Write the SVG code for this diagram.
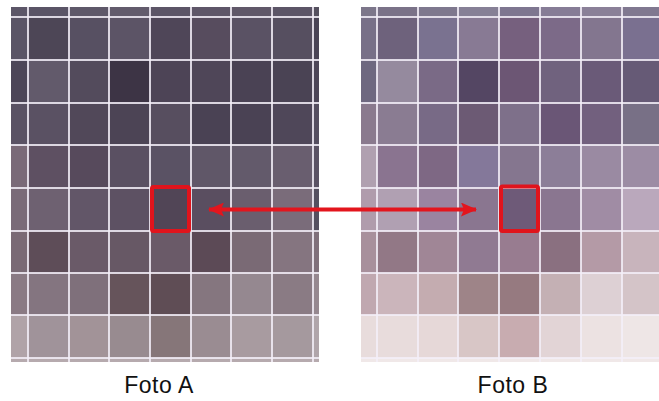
<svg xmlns="http://www.w3.org/2000/svg" width="659" height="401" viewBox="0 0 659 401">
<style>
.grid line{stroke:#f3eef8;stroke-width:2;stroke-opacity:0.85}
.sel{fill:none;stroke:#e0141c;stroke-width:4}
.lbl{font-family:"Liberation Sans",Arial,sans-serif;font-size:23px;fill:#111;text-anchor:middle;letter-spacing:0.5px}
</style>
<defs>
<marker id="ah" viewBox="0 0 16 14" refX="15" refY="7" markerWidth="16" markerHeight="14" markerUnits="userSpaceOnUse" orient="auto-start-reverse">
<path d="M0,0 L16,7 L0,14 L3,7 Z" fill="#e3151d"/>
</marker>
</defs>
<rect width="659" height="401" fill="#ffffff"/>

<g id="fotoA">
<g>
<rect x="11" y="7" width="17" height="10" fill="#5c5668"/><rect x="28" y="7" width="41" height="10" fill="#5a5466"/><rect x="69" y="7" width="40" height="10" fill="#5e5869"/><rect x="109" y="7" width="41" height="10" fill="#625b6c"/><rect x="150" y="7" width="41" height="10" fill="#5c5567"/><rect x="191" y="7" width="40" height="10" fill="#5e5668"/><rect x="231" y="7" width="41" height="10" fill="#605869"/><rect x="272" y="7" width="41" height="10" fill="#5c5567"/><rect x="313" y="7" width="6" height="10" fill="#55505f"/>
</g>
<g>
<rect x="11" y="17" width="17" height="43" fill="#5a5466"/><rect x="28" y="17" width="41" height="43" fill="#4d4656"/><rect x="69" y="17" width="40" height="43" fill="#575062"/><rect x="109" y="17" width="41" height="43" fill="#5c5466"/><rect x="150" y="17" width="41" height="43" fill="#4f4658"/><rect x="191" y="17" width="40" height="43" fill="#574c5e"/><rect x="231" y="17" width="41" height="43" fill="#5a5264"/><rect x="272" y="17" width="41" height="43" fill="#564f60"/><rect x="313" y="17" width="6" height="43" fill="#4a4456"/>
</g>
<g>
<rect x="11" y="60" width="17" height="43" fill="#4d4658"/><rect x="28" y="60" width="41" height="43" fill="#625a6b"/><rect x="69" y="60" width="40" height="43" fill="#534b5c"/><rect x="109" y="60" width="41" height="43" fill="#3d3445"/><rect x="150" y="60" width="41" height="43" fill="#4d4456"/><rect x="191" y="60" width="40" height="43" fill="#4f4658"/><rect x="231" y="60" width="41" height="43" fill="#4a4254"/><rect x="272" y="60" width="41" height="43" fill="#4a4354"/><rect x="313" y="60" width="6" height="43" fill="#4d4658"/>
</g>
<g>
<rect x="11" y="103" width="17" height="42" fill="#5a5264"/><rect x="28" y="103" width="41" height="42" fill="#5a5163"/><rect x="69" y="103" width="40" height="42" fill="#514859"/><rect x="109" y="103" width="41" height="42" fill="#4c4455"/><rect x="150" y="103" width="41" height="42" fill="#574e5f"/><rect x="191" y="103" width="40" height="42" fill="#4a4254"/><rect x="231" y="103" width="41" height="42" fill="#4a4254"/><rect x="272" y="103" width="41" height="42" fill="#4f4759"/><rect x="313" y="103" width="6" height="42" fill="#554e60"/>
</g>
<g>
<rect x="11" y="145" width="17" height="43" fill="#7a6a78"/><rect x="28" y="145" width="41" height="43" fill="#5e5062"/><rect x="69" y="145" width="40" height="43" fill="#574a5c"/><rect x="109" y="145" width="41" height="43" fill="#5a5062"/><rect x="150" y="145" width="41" height="43" fill="#5a5264"/><rect x="191" y="145" width="40" height="43" fill="#605768"/><rect x="231" y="145" width="41" height="43" fill="#635a6b"/><rect x="272" y="145" width="41" height="43" fill="#695e6f"/><rect x="313" y="145" width="6" height="43" fill="#5a5264"/>
</g>
<g>
<rect x="11" y="188" width="17" height="43" fill="#7a6b78"/><rect x="28" y="188" width="41" height="43" fill="#6e6171"/><rect x="69" y="188" width="40" height="43" fill="#625668"/><rect x="109" y="188" width="41" height="43" fill="#5d5163"/><rect x="150" y="188" width="41" height="43" fill="#514556"/><rect x="191" y="188" width="40" height="43" fill="#5a4e60"/><rect x="231" y="188" width="41" height="43" fill="#6a5e6e"/><rect x="272" y="188" width="41" height="43" fill="#7a6c7a"/><rect x="313" y="188" width="6" height="43" fill="#555060"/>
</g>
<g>
<rect x="11" y="231" width="17" height="42" fill="#7a6a75"/><rect x="28" y="231" width="41" height="42" fill="#5e4d58"/><rect x="69" y="231" width="40" height="42" fill="#6a5a68"/><rect x="109" y="231" width="41" height="42" fill="#675865"/><rect x="150" y="231" width="41" height="42" fill="#6a5a68"/><rect x="191" y="231" width="40" height="42" fill="#5c4a56"/><rect x="231" y="231" width="41" height="42" fill="#7a6a75"/><rect x="272" y="231" width="41" height="42" fill="#857580"/><rect x="313" y="231" width="6" height="42" fill="#80707b"/>
</g>
<g>
<rect x="11" y="273" width="17" height="42" fill="#8a7a84"/><rect x="28" y="273" width="41" height="42" fill="#847580"/><rect x="69" y="273" width="40" height="42" fill="#7f707b"/><rect x="109" y="273" width="41" height="42" fill="#66545b"/><rect x="150" y="273" width="41" height="42" fill="#5f4d55"/><rect x="191" y="273" width="40" height="42" fill="#85767f"/><rect x="231" y="273" width="41" height="42" fill="#958890"/><rect x="272" y="273" width="41" height="42" fill="#8a7b84"/><rect x="313" y="273" width="6" height="42" fill="#968890"/>
</g>
<g>
<rect x="11" y="315" width="17" height="43" fill="#b0a3a8"/><rect x="28" y="315" width="41" height="43" fill="#a0939a"/><rect x="69" y="315" width="40" height="43" fill="#a29398"/><rect x="109" y="315" width="41" height="43" fill="#988b90"/><rect x="150" y="315" width="41" height="43" fill="#867679"/><rect x="191" y="315" width="40" height="43" fill="#9a8c92"/><rect x="231" y="315" width="41" height="43" fill="#a89ba0"/><rect x="272" y="315" width="41" height="43" fill="#a5999e"/><rect x="313" y="315" width="6" height="43" fill="#b0a5aa"/>
</g>
<g>
<rect x="11" y="358" width="308" height="4" fill="#b6aaae"/>
</g>
<g class="grid">
<line x1="28" y1="7" x2="28" y2="362"/><line x1="69" y1="7" x2="69" y2="362"/><line x1="109" y1="7" x2="109" y2="362"/><line x1="150" y1="7" x2="150" y2="362"/><line x1="191" y1="7" x2="191" y2="362"/><line x1="231" y1="7" x2="231" y2="362"/><line x1="272" y1="7" x2="272" y2="362"/><line x1="313" y1="7" x2="313" y2="362"/>
<line x1="11" y1="17" x2="319" y2="17"/><line x1="11" y1="60" x2="319" y2="60"/><line x1="11" y1="103" x2="319" y2="103"/><line x1="11" y1="145" x2="319" y2="145"/><line x1="11" y1="188" x2="319" y2="188"/><line x1="11" y1="231" x2="319" y2="231"/><line x1="11" y1="273" x2="319" y2="273"/><line x1="11" y1="315" x2="319" y2="315"/><line x1="11" y1="358" x2="319" y2="358"/>
</g>
<rect class="sel" x="152" y="187" width="37" height="44" rx="1.5"/>
<text class="lbl" x="159" y="393">Foto A</text>
</g>

<g id="fotoB">
<g>
<rect x="361" y="7" width="16" height="10" fill="#7c768a"/><rect x="377" y="7" width="41" height="10" fill="#7a7288"/><rect x="418" y="7" width="40" height="10" fill="#7e788e"/><rect x="458" y="7" width="41" height="10" fill="#868096"/><rect x="499" y="7" width="41" height="10" fill="#7e7690"/><rect x="540" y="7" width="41" height="10" fill="#867c96"/><rect x="581" y="7" width="41" height="10" fill="#8a8098"/><rect x="622" y="7" width="37" height="10" fill="#807890"/>
</g>
<g>
<rect x="361" y="17" width="16" height="43" fill="#787088"/><rect x="377" y="17" width="41" height="43" fill="#6e627c"/><rect x="418" y="17" width="40" height="43" fill="#7a7290"/><rect x="458" y="17" width="41" height="43" fill="#887a94"/><rect x="499" y="17" width="41" height="43" fill="#76607e"/><rect x="540" y="17" width="41" height="43" fill="#7c6a88"/><rect x="581" y="17" width="41" height="43" fill="#83768f"/><rect x="622" y="17" width="37" height="43" fill="#7a7090"/>
</g>
<g>
<rect x="361" y="60" width="16" height="43" fill="#6e6880"/><rect x="377" y="60" width="41" height="43" fill="#958a9e"/><rect x="418" y="60" width="40" height="43" fill="#7a6a86"/><rect x="458" y="60" width="41" height="43" fill="#544663"/><rect x="499" y="60" width="41" height="43" fill="#6c5674"/><rect x="540" y="60" width="41" height="43" fill="#70627e"/><rect x="581" y="60" width="41" height="43" fill="#6a5a78"/><rect x="622" y="60" width="37" height="43" fill="#665a76"/>
</g>
<g>
<rect x="361" y="103" width="16" height="42" fill="#8a7a8e"/><rect x="377" y="103" width="41" height="42" fill="#8a7c92"/><rect x="418" y="103" width="40" height="42" fill="#786a86"/><rect x="458" y="103" width="41" height="42" fill="#6c5a74"/><rect x="499" y="103" width="41" height="42" fill="#7e708a"/><rect x="540" y="103" width="41" height="42" fill="#6a5676"/><rect x="581" y="103" width="41" height="42" fill="#72607e"/><rect x="622" y="103" width="37" height="42" fill="#787086"/>
</g>
<g>
<rect x="361" y="145" width="16" height="43" fill="#b0a0b0"/><rect x="377" y="145" width="41" height="43" fill="#8a7490"/><rect x="418" y="145" width="40" height="43" fill="#7e6884"/><rect x="458" y="145" width="41" height="43" fill="#84789a"/><rect x="499" y="145" width="41" height="43" fill="#85768f"/><rect x="540" y="145" width="41" height="43" fill="#8c7e98"/><rect x="581" y="145" width="41" height="43" fill="#9a8aa2"/><rect x="622" y="145" width="37" height="43" fill="#9c8ca4"/>
</g>
<g>
<rect x="361" y="188" width="16" height="43" fill="#b09cac"/><rect x="377" y="188" width="41" height="43" fill="#b0a0b2"/><rect x="418" y="188" width="40" height="43" fill="#9a84a0"/><rect x="458" y="188" width="41" height="43" fill="#8a7690"/><rect x="499" y="188" width="41" height="43" fill="#6e5a78"/><rect x="540" y="188" width="41" height="43" fill="#8a7690"/><rect x="581" y="188" width="41" height="43" fill="#a08ca4"/><rect x="622" y="188" width="37" height="43" fill="#baa8bc"/>
</g>
<g>
<rect x="361" y="231" width="16" height="42" fill="#a8909c"/><rect x="377" y="231" width="41" height="42" fill="#927886"/><rect x="418" y="231" width="40" height="42" fill="#a08696"/><rect x="458" y="231" width="41" height="42" fill="#907a92"/><rect x="499" y="231" width="41" height="42" fill="#987c90"/><rect x="540" y="231" width="41" height="42" fill="#8a7080"/><rect x="581" y="231" width="41" height="42" fill="#b49aa6"/><rect x="622" y="231" width="37" height="42" fill="#c8b4bc"/>
</g>
<g>
<rect x="361" y="273" width="16" height="42" fill="#c0a8b0"/><rect x="377" y="273" width="41" height="42" fill="#cbb5bb"/><rect x="418" y="273" width="40" height="42" fill="#c4acb0"/><rect x="458" y="273" width="41" height="42" fill="#9e8488"/><rect x="499" y="273" width="41" height="42" fill="#967a80"/><rect x="540" y="273" width="41" height="42" fill="#c4b0b4"/><rect x="581" y="273" width="41" height="42" fill="#ddd0d4"/><rect x="622" y="273" width="37" height="42" fill="#d4c4c8"/>
</g>
<g>
<rect x="361" y="315" width="16" height="43" fill="#e8dcdc"/><rect x="377" y="315" width="41" height="43" fill="#e8dcdc"/><rect x="418" y="315" width="40" height="43" fill="#e6d8d8"/><rect x="458" y="315" width="41" height="43" fill="#d8c6c6"/><rect x="499" y="315" width="41" height="43" fill="#c8acb0"/><rect x="540" y="315" width="41" height="43" fill="#e2d4d6"/><rect x="581" y="315" width="41" height="43" fill="#ece2e2"/><rect x="622" y="315" width="37" height="43" fill="#eee6e6"/>
</g>
<g>
<rect x="361" y="358" width="298" height="4" fill="#f0e8e8"/>
</g>
<g class="grid">
<line x1="377" y1="7" x2="377" y2="362"/><line x1="418" y1="7" x2="418" y2="362"/><line x1="458" y1="7" x2="458" y2="362"/><line x1="499" y1="7" x2="499" y2="362"/><line x1="540" y1="7" x2="540" y2="362"/><line x1="581" y1="7" x2="581" y2="362"/><line x1="622" y1="7" x2="622" y2="362"/>
<line x1="361" y1="17" x2="659" y2="17"/><line x1="361" y1="60" x2="659" y2="60"/><line x1="361" y1="103" x2="659" y2="103"/><line x1="361" y1="145" x2="659" y2="145"/><line x1="361" y1="188" x2="659" y2="188"/><line x1="361" y1="231" x2="659" y2="231"/><line x1="361" y1="273" x2="659" y2="273"/><line x1="361" y1="315" x2="659" y2="315"/><line x1="361" y1="358" x2="659" y2="358"/>
</g>
<rect class="sel" x="501" y="186.5" width="37" height="44.5" rx="1.5"/>
<text class="lbl" x="513" y="393">Foto B</text>
</g>

<g id="connectors">
<line x1="209" y1="209.5" x2="476" y2="209.5" stroke="#e3151d" stroke-width="4" marker-start="url(#ah)" marker-end="url(#ah)"/>
</g>
</svg>
